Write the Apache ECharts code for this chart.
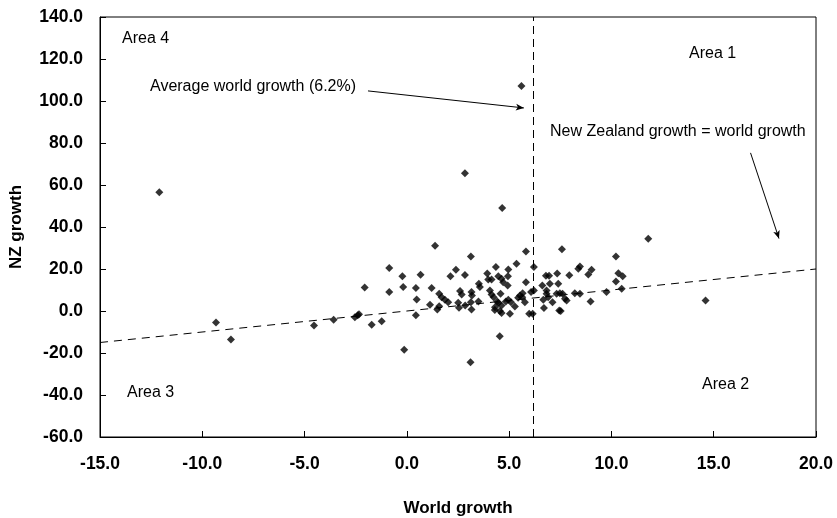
<!DOCTYPE html>
<html><head><meta charset="utf-8">
<script src="https://cdn.jsdelivr.net/npm/echarts@6/dist/echarts.min.js"></script>
<style>html,body{margin:0;padding:0;background:#fff}#c{width:837px;height:518px}</style>
</head><body><div id="c"></div>
<script>
// World growth (x) vs NZ growth (y), each pair [world, nz]
const worldGrowth = [-12.1,5.6,2.84,4.66,1.38,3.13,5.82,7.58,10.22,11.80,14.6,-9.33,-8.6,-0.13,3.11,4.54,-4.54,-3.58,-2.54,-2.34,-2.06,-1.72,-1.23,-0.86,-0.86,-0.22,-0.18,0.44,0.48,0.44,0.67,1.21,1.13,1.58,1.70,1.86,2.02,1.49,1.58,2.13,2.40,2.84,2.60,2.68,2.51,2.55,2.85,3.16,3.18,3.16,3.13,3.52,3.57,3.50,3.93,3.98,4.14,4.06,4.14,4.35,4.47,4.63,4.71,4.42,4.31,4.58,4.63,4.55,4.24,4.96,4.94,4.93,4.96,4.84,5.04,5.28,5.36,5.44,5.53,5.66,5.82,5.77,5.98,6.15,6.21,6.21,6.62,6.80,6.95,6.67,6.70,6.83,7.12,6.99,7.32,7.45,7.35,7.40,7.94,8.38,8.46,8.87,9.03,6.83,6.91,7.48,7.61,7.73,7.81,7.52,8.21,8.46,8.98,9.76,10.50,10.22,10.34,10.55,-2.4,4.47,5.09,5.64,6.07,4.3,4.63];
const nzGrowth = [56.6,107.2,65.6,49.1,31.1,26.0,28.3,29.4,26.0,34.4,5.0,-5.5,-13.6,-18.4,-24.4,-12.0,-6.9,-4.2,-3.0,-1.5,11.2,-6.6,-4.9,20.5,9.0,16.6,11.4,10.9,5.5,-2.0,17.3,10.9,3.0,8.2,6.6,5.3,4.2,0.7,2.3,16.6,19.7,17.1,9.5,7.9,3.9,1.5,2.6,9.0,7.4,0.7,4.2,13.0,11.4,4.5,17.9,15.0,15.0,9.8,7.9,20.9,16.6,15.4,13.7,4.5,1.8,8.2,2.6,0.0,6.6,19.8,16.5,12.2,5.3,4.5,-1.3,2.2,22.5,6.3,7.4,8.5,13.7,4.2,-1.3,-1.3,20.9,9.8,12.2,16.8,16.8,5.3,1.4,8.2,4.2,13.0,8.2,0.2,17.8,13.0,17.0,20.1,21.2,17.4,19.7,9.8,6.6,8.5,8.2,5.8,5.0,0.0,8.5,8.2,4.5,9.0,10.6,14.1,18.0,16.5,-2.0,3.8,4.2,6.6,9.0,0.5,-0.9];
const averageWorldGrowth = 6.2;
const equalLine = [[-15,-15],[20,20]];
const xTicks = {min:-15, max:20, interval:5};
const yTicks = {min:-60, max:140, interval:20};
const avgArrow = [[-1.90,104.8],[5.72,96.7]];
const eqArrow = [[16.80,75.3],[18.19,34.5]];

const points = worldGrowth.map((x,i)=>[x,nzGrowth[i]]);
const FONT = '"Liberation Sans", Arial, sans-serif';
const chart = echarts.init(document.getElementById('c'));
const txt = (t,x,y)=>({type:'text',left:x,top:y,style:{text:t,font:'16px '+FONT,fill:'#000'}});
chart.setOption({
  animation:false,
  backgroundColor:'#fff',
  grid:{left:100,right:21,top:17,bottom:81,show:true,borderColor:'#000',borderWidth:1,outerBoundsMode:'none',containLabel:false},
  xAxis:{type:'value',min:xTicks.min,max:xTicks.max,interval:xTicks.interval,
    name:'World growth',nameLocation:'middle',nameGap:63,
    nameTextStyle:{fontFamily:FONT,fontWeight:'bold',fontSize:17,color:'#000'},
    axisLine:{onZero:false,lineStyle:{color:'#000',width:1}},
    axisTick:{inside:true,length:6,lineStyle:{color:'#000'}},
    axisLabel:{margin:18,fontFamily:FONT,fontWeight:'bold',fontSize:17.5,color:'#000',formatter:v=>v.toFixed(1)},
    splitLine:{show:false}},
  yAxis:{type:'value',min:yTicks.min,max:yTicks.max,interval:yTicks.interval,
    name:'NZ growth',nameLocation:'middle',nameGap:75,nameRotate:90,
    nameTextStyle:{fontFamily:FONT,fontWeight:'bold',fontSize:17,color:'#000'},
    axisLine:{onZero:false,lineStyle:{color:'#000',width:1}},
    axisTick:{inside:true,length:6,lineStyle:{color:'#000'}},
    axisLabel:{margin:17,fontFamily:FONT,fontWeight:'bold',fontSize:17.5,color:'#000',formatter:v=>v.toFixed(1)},
    splitLine:{show:false}},
  series:[{
    type:'scatter',data:points,symbol:'diamond',symbolSize:8,
    itemStyle:{color:'#000'},z:5,
    markLine:{silent:true,animation:false,label:{show:false},
      data:[
        [{coord:equalLine[0],symbol:'none',lineStyle:{type:[8,6],color:'#000',width:1}},{coord:equalLine[1],symbol:'none'}],
        [{xAxis:averageWorldGrowth,yAxis:yTicks.min,symbol:'none',lineStyle:{type:[8,5],color:'#000',width:1}},{xAxis:averageWorldGrowth,yAxis:yTicks.max,symbol:'none'}],
        [{coord:avgArrow[0],symbol:'none',lineStyle:{type:'solid',color:'#000',width:1}},{coord:avgArrow[1],symbol:'arrow',symbolSize:[5,8]}],
        [{coord:eqArrow[0],symbol:'none',lineStyle:{type:'solid',color:'#000',width:1}},{coord:eqArrow[1],symbol:'arrow',symbolSize:[5,8]}]
      ]}
  }],
  graphic:[
    txt('Area 4',122,31),
    txt('Area 1',689,46),
    txt('Area 2',702,377),
    txt('Area 3',127,385),
    txt('Average world growth (6.2%)',150,79),
    txt('New Zealand growth = world growth',550,124)
  ]
});
</script></body></html>
